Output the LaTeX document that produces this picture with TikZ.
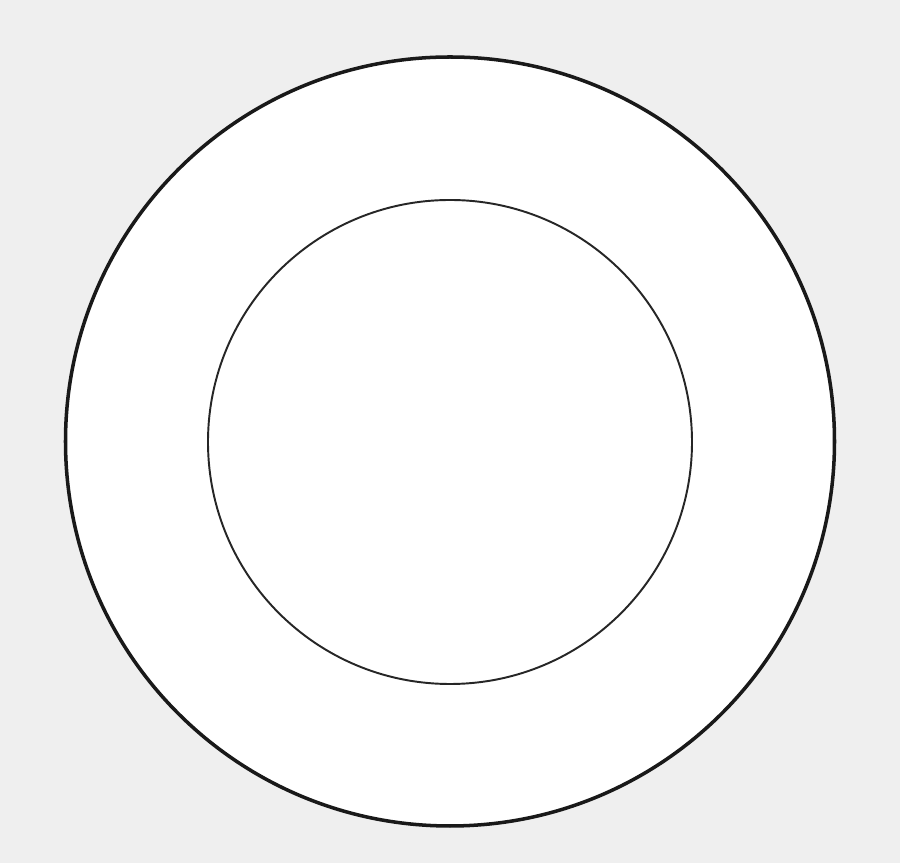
\documentclass[tikz,border=0pt]{standalone}
\definecolor{paper}{HTML}{EFEFEF}
\tikzset{
  rim/.style={draw=black!90, line width=2pt, fill=white},
  well/.style={draw=black!85, line width=1.1pt}
}
\begin{document}
\begin{tikzpicture}
      \fill[paper] (0,0) rectangle (18,17.26);
      \useasboundingbox (0,0) rectangle (18,17.26);
      \coordinate (c) at (9,8.43);
      \draw[rim] (c) circle (7.69);
      \draw[well] (9,8.42) circle (4.84);
    \end{tikzpicture}
\end{document}
